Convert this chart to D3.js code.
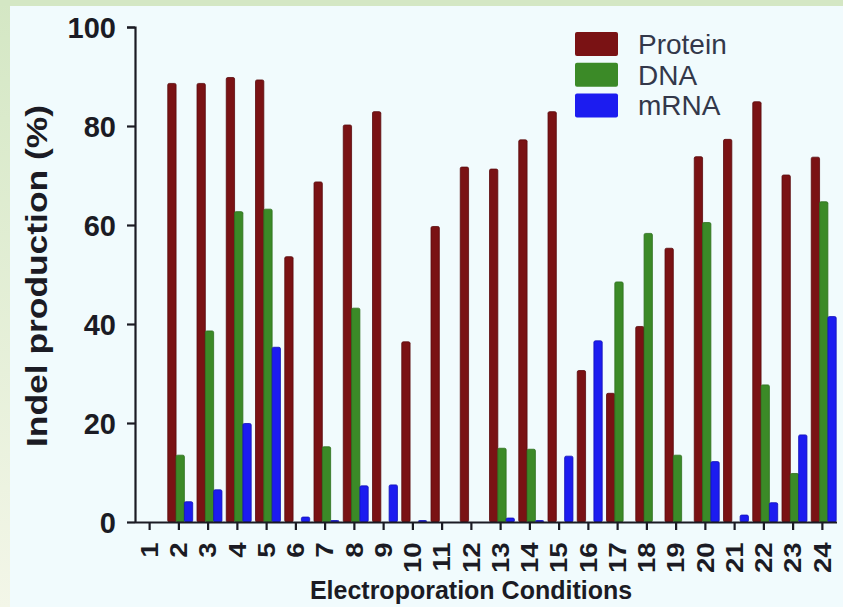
<!DOCTYPE html>
<html>
<head>
<meta charset="utf-8">
<script src="https://cdn.jsdelivr.net/npm/d3@7"></script>
<style>
  body { margin: 0; background: #f1fbfd; }
  svg { display: block; }
</style>
</head>
<body>
<div id="chart"></div>
<script>
// Data
var conditions = ["1","2","3","4","5","6","7","8","9","10","11","12",
                  "13","14","15","16","17","18","19","20","21","22","23","24"];
var seriesNames = ["Protein", "DNA", "mRNA"];
var protein = [0, 88.6, 88.6, 89.8, 89.3, 53.6, 68.7, 80.2, 82.9, 36.4, 59.7, 71.7,
               71.3, 77.2, 82.9, 30.6, 26.0, 39.5, 55.3, 73.8, 77.3, 84.9, 70.1, 73.7];
var dna     = [0, 13.5, 38.6, 62.7, 63.2, 0, 15.2, 43.2, 0, 0, 0, 0,
               14.9, 14.7, 0, 0, 48.5, 58.3, 13.5, 60.5, 0, 27.7, 9.8, 64.7];
var mrna    = [0, 4.1, 6.5, 19.9, 35.3, 1.0, 0.3, 7.3, 7.5, 0.3, 0, 0,
               0.8, 0.3, 13.3, 36.6, 0, 0, 0, 12.2, 1.4, 3.9, 17.6, 41.5];
var yTicks = [0, 20, 40, 60, 80, 100];

var colors = {Protein: "#7a1214", DNA: "#3b8a27", mRNA: "#1c1cf0"};
var strokes = {Protein: "#5a0a0c", DNA: "#2d6e1d", mRNA: "#1010b8"};
var font = "Liberation Sans, Arial, sans-serif";
var ink = "#1b1b24";

var width = 843, height = 607;
var margin = {top: 27, right: 6, bottom: 85, left: 135};
var plotW = width - margin.left - margin.right;
var plotH = height - margin.top - margin.bottom;

var svg = d3.select("#chart").append("svg")
            .attr("width", width)
            .attr("height", height);

// Page background with the greenish frame on the left and top
var defs = svg.append("defs");
var grad = defs.append("linearGradient")
               .attr("id", "frameGrad")
               .attr("x1", 0).attr("y1", 0).attr("x2", 0).attr("y2", 1);
grad.append("stop").attr("offset", "0%").attr("stop-color", "#d4e7c4");
grad.append("stop").attr("offset", "100%").attr("stop-color", "#f3f6e8");
svg.append("rect").attr("width", width).attr("height", height).attr("fill", "#f1fbfd");
svg.append("rect").attr("width", 10).attr("height", height).attr("fill", "url(#frameGrad)");
svg.append("rect").attr("width", width).attr("height", 6).attr("fill", "#d4e7c4");

var g = svg.append("g")
           .attr("transform", "translate(" + margin.left + "," + margin.top + ")");

var x0 = d3.scaleBand().domain(conditions).range([0, plotW]).padding(0);
var x1 = d3.scaleBand().domain(seriesNames).range([3.5, x0.bandwidth() - 0.8]);
var y = d3.scaleLinear().domain([0, 100]).range([plotH, 0]);

var rows = conditions.map(function(c, i) {
  return {cond: c, Protein: protein[i], DNA: dna[i], mRNA: mrna[i]};
});

// Bars
var groups = g.selectAll("g.cond")
              .data(rows)
              .enter().append("g")
              .attr("class", "cond")
              .attr("transform", function(d) { return "translate(" + x0(d.cond) + ",0)"; });
groups.selectAll("rect")
      .data(function(d) {
        return seriesNames.map(function(k) { return {key: k, value: d[k]}; })
                          .filter(function(e) { return e.value > 0; });
      })
      .enter().append("rect")
      .attr("x", function(d) { return x1(d.key); })
      .attr("width", x1.bandwidth())
      .attr("y", function(d) { return y(d.value); })
      .attr("height", function(d) { return plotH - y(d.value); })
      .attr("rx", 1.5)
      .attr("fill", function(d) { return colors[d.key]; })
      .attr("stroke", function(d) { return strokes[d.key]; })
      .attr("stroke-width", 0.8);

// Axes
var yAxis = g.append("g")
             .call(d3.axisLeft(y).tickValues(yTicks).tickSize(8).tickPadding(11));
var xAxis = g.append("g")
             .attr("transform", "translate(0," + plotH + ")")
             .call(d3.axisBottom(x0).tickSize(8).tickSizeOuter(0));

[yAxis, xAxis].forEach(function(ax) {
  ax.select(".domain").attr("stroke", ink).attr("stroke-width", 2.2);
  ax.selectAll(".tick line").attr("stroke", ink).attr("stroke-width", 2.2);
  ax.selectAll("text")
    .attr("fill", ink)
    .attr("font-family", font)
    .attr("font-weight", "bold");
});
yAxis.select(".domain").attr("d", "M-8,0.5H0.5V" + plotH);
yAxis.selectAll("text").attr("font-size", "29px").attr("dy", "0.36em");
xAxis.selectAll("text")
     .attr("font-size", "23px")
     .attr("transform", "rotate(-90) scale(1.2,1)")
     .attr("text-anchor", "end")
     .attr("x", -17)
     .attr("y", 0)
     .attr("dy", "0.36em");
xAxis.select(".domain").attr("d", "M0,0.5H" + plotW);

// Axis titles
svg.append("text")
   .attr("x", 471)
   .attr("y", 599)
   .attr("text-anchor", "middle")
   .attr("font-family", font)
   .attr("font-weight", "bold")
   .attr("font-size", "25px")
   .attr("fill", ink)
   .text("Electroporation Conditions");
svg.append("text")
   .attr("transform", "translate(47,276) rotate(-90) scale(1.18,1)")
   .attr("text-anchor", "middle")
   .attr("font-family", font)
   .attr("font-weight", "bold")
   .attr("font-size", "30px")
   .attr("fill", ink)
   .text("Indel production (%)");

// Legend
var legend = svg.append("g").attr("transform", "translate(575,32)");
var items = legend.selectAll("g")
                  .data(seriesNames)
                  .enter().append("g")
                  .attr("transform", function(d, i) { return "translate(0," + (i * 30.7) + ")"; });
items.append("rect")
     .attr("width", 43)
     .attr("height", 24)
     .attr("rx", 2)
     .attr("fill", function(d) { return colors[d]; });
items.append("text")
     .attr("x", 63)
     .attr("y", 12)
     .attr("dy", "0.36em")
     .attr("font-family", font)
     .attr("font-size", "28px")
     .attr("fill", "#33384a")
     .text(function(d) { return d; });
</script>
</body>
</html>
